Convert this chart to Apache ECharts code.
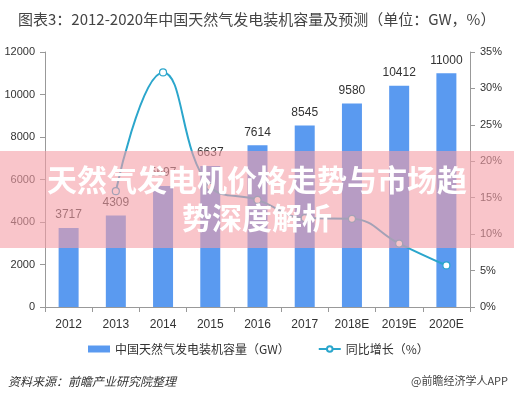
<!DOCTYPE html>
<html><head><meta charset="utf-8">
<script src="https://cdn.jsdelivr.net/npm/echarts@6/dist/echarts.min.js"></script>
<style>html,body{margin:0;padding:0;background:#fff}#c{width:514px;height:400px}</style>
</head><body><div id="c"></div>
<script>
const categories = ['2012','2013','2014','2015','2016','2017','2018E','2019E','2020E'];
const capacity = [3717, 4309, 5697, 6637, 7614, 8545, 9580, 10412, 11000];
const growth = [null, 15.9, 32.2, 16.5, 14.7, 12.2, 12.1, 8.7, 5.7];
const leftTicks = [0, 2000, 4000, 6000, 8000, 10000, 12000];
const rightTicks = [0, 5, 10, 15, 20, 25, 30, 35];
const titleText = '图表3：2012-2020年中国天然气发电装机容量及预测（单位：GW，%）';
const overlayLines = ['天然气发电机价格走势与市场趋', '势深度解析'];

const chart = echarts.init(document.getElementById('c'), null, {renderer:'canvas'});
const font = '"Liberation Sans", Arial, "Noto Sans CJK SC", sans-serif';
chart.setOption({
  backgroundColor:'#fff',
  animation:false,
  textStyle:{fontFamily:font},
  title:{text:titleText, left:13, top:7, textStyle:{fontSize:15, fontWeight:'normal', color:'#444', fontFamily:'"Noto Sans CJK SC", sans-serif'}},
  grid:{left:45, right:44, top:52, bottom:93},
  legend:{bottom:40, left:83, itemGap:28, itemWidth:22, itemHeight:7,
    textStyle:{fontSize:12, color:'#333', fontFamily:'"Noto Sans CJK SC", sans-serif'},
    data:[{name:'中国天然气发电装机容量（GW）', icon:'rect'}, {name:'同比增长（%）'}]},
  xAxis:{type:'category', data:categories,
    axisLine:{lineStyle:{color:'#999'}}, axisTick:{show:true, alignWithLabel:false, length:5, lineStyle:{color:'#999'}},
    axisLabel:{fontSize:12, color:'#333', margin:12}},
  yAxis:[
    {type:'value', min:0, max:12000, interval:2000, splitLine:{show:false},
      axisLine:{show:true, lineStyle:{color:'#999'}}, axisTick:{show:true, length:5, lineStyle:{color:'#999'}},
      axisLabel:{fontSize:11, color:'#333', margin:10, formatter:function(v){return String(v);}}},
    {type:'value', min:0, max:35, interval:5, splitLine:{show:false},
      axisLine:{show:true, lineStyle:{color:'#999'}}, axisTick:{show:true, length:5, lineStyle:{color:'#999'}},
      axisLabel:{fontSize:11, color:'#333', margin:10, formatter:'{value}%'}}
  ],
  series:[
    {name:'中国天然气发电装机容量（GW）', type:'bar', data:capacity, barWidth:20,
      itemStyle:{color:'#5a9af0'},
      label:{show:true, position:'top', fontSize:12, color:'#333', distance:7}},
    {name:'同比增长（%）', type:'line', yAxisIndex:1, data:growth, smooth:0.45,
      symbol:'circle', symbolSize:7, showSymbol:true,
      lineStyle:{color:'#2ba6cc', width:2},
      itemStyle:{color:'#fff', borderColor:'#2ba6cc', borderWidth:1.2}}
  ],
  graphic:[
    {type:'text', left:8, top:375, style:{text:'资料来源：前瞻产业研究院整理', fill:'#333', font:'italic 12px "Noto Sans CJK SC"'}},
    {type:'text', right:6, top:375, style:{text:'@前瞻经济学人APP', fill:'#444', font:'11px "Noto Sans CJK SC"'}},
    {type:'rect', shape:{x:0, y:151, width:514, height:97}, style:{fill:'rgba(245,159,166,0.6)'}, z:100},
    {type:'text', x:257, y:180, z:101, style:{text:overlayLines[0], fill:'#fff', align:'center', verticalAlign:'middle', font:'bold 30px "Noto Sans CJK SC"'}},
    {type:'text', x:257, y:218, z:101, style:{text:overlayLines[1], fill:'#fff', align:'center', verticalAlign:'middle', font:'bold 30px "Noto Sans CJK SC"'}}
  ]
});
</script></body></html>
